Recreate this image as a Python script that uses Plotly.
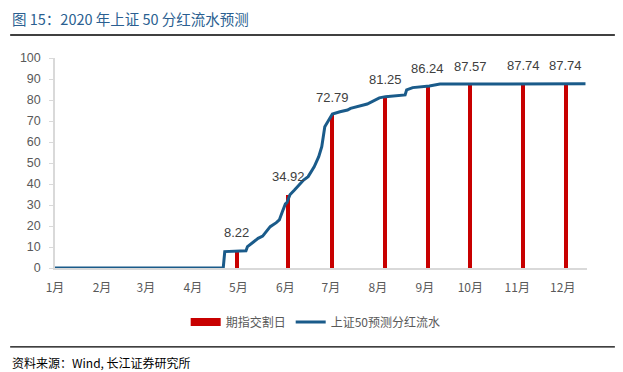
import plotly.graph_objects as go

# ---- data ----
LINE_DATES = ["2020-01-01", "2020-04-21", "2020-04-22", "2020-05-06", "2020-05-07",
              "2020-05-11", "2020-05-14", "2020-05-17", "2020-05-22", "2020-05-26",
              "2020-05-28", "2020-05-30", "2020-06-01", "2020-06-02", "2020-06-04",
              "2020-06-07", "2020-06-11", "2020-06-13", "2020-06-16", "2020-06-20",
              "2020-06-23", "2020-06-25", "2020-06-27", "2020-06-29", "2020-07-01",
              "2020-07-02", "2020-07-07", "2020-07-12", "2020-07-14", "2020-07-18",
              "2020-07-25", "2020-08-02", "2020-08-06", "2020-08-19", "2020-08-20",
              "2020-08-24", "2020-09-04", "2020-09-11", "2020-12-16"]
LINE_VALUES = [0, 0, 7.8, 8.2, 10.2,
               12.5, 14.1, 15.2, 19.7, 21.6,
               22.9, 26.8, 30.5, 31.1, 34.9,
               37.1, 40.3, 41.9, 43.5, 48.2,
               53.0, 57.8, 67.3, 69.7, 72.0,
               73.3, 74.4, 75.2, 76.0, 76.8,
               78.1, 81.0, 81.6, 82.4, 84.8,
               85.9, 86.7, 87.6, 87.74]

BAR_DATES = ["2020-04-30", "2020-06-03", "2020-07-02", "2020-08-06",
             "2020-09-03", "2020-10-01", "2020-11-05", "2020-12-03"]
BAR_VALUES = [8.22, 34.92, 72.79, 81.25, 86.24, 87.57, 87.74, 87.74]

MONTH_TICKS = ["2020-01-01", "2020-02-01", "2020-03-01", "2020-04-01", "2020-05-01",
               "2020-06-01", "2020-07-01", "2020-08-01", "2020-09-01", "2020-10-01",
               "2020-11-01", "2020-12-01"]
MONTH_LABELS = ["1月", "2月", "3月", "4月", "5月", "6月", "7月", "8月", "9月",
                "10月", "11月", "12月"]
Y_TICKS = [0, 10, 20, 30, 40, 50, 60, 70, 80, 90, 100]

BAR_NAME = "期指交割日"
LINE_NAME = "上证50预测分红流水"
TITLE = "图 15：2020 年上证 50 分红流水预测"
SOURCE = "资料来源：Wind, 长江证券研究所"

RED = "#C80000"
BLUE = "#1A5B8A"
FONT = "Liberation Sans, Arial, Noto Sans CJK SC, sans-serif"
CJK = "Noto Sans CJK SC, sans-serif"
GRAY = "#595959"

fig = go.Figure()

fig.add_trace(go.Bar(
    x=BAR_DATES, y=BAR_VALUES, marker_color=RED, marker_line_width=0,
    width=2.6 * 86400000, showlegend=False, name=BAR_NAME,
))
# legend proxy for the bar series (wide red block)
fig.add_trace(go.Scatter(
    x=[None], y=[None], mode="lines", line=dict(color=RED, width=8),
    name=BAR_NAME,
))
fig.add_trace(go.Scatter(
    x=LINE_DATES, y=LINE_VALUES, mode="lines", line=dict(color=BLUE, width=3),
    name=LINE_NAME,
))

for d, v in zip(BAR_DATES, BAR_VALUES):
    fig.add_annotation(x=d, y=v, text=f"{v:.2f}", showarrow=False,
                       yanchor="middle", yshift=18,
                       font=dict(family=FONT, size=13, color="#404040"))

# title, rules, source
fig.add_annotation(xref="paper", yref="paper", x=-0.0843, y=1.188, xanchor="left",
                   yanchor="middle", text=TITLE, showarrow=False,
                   font=dict(family=CJK, size=14.5, color="#2B5F91"))
fig.add_annotation(xref="paper", yref="paper", x=-0.0843, y=-0.448, xanchor="left",
                   yanchor="middle", text=SOURCE, showarrow=False,
                   font=dict(family=CJK, size=12, color="#000000"))
fig.add_shape(type="line", xref="paper", yref="paper", x0=-0.0843, x1=1.0524,
              y0=1.1095, y1=1.1095, line=dict(color="#000000", width=1.5))
fig.add_shape(type="line", xref="paper", yref="paper", x0=-0.0843, x1=1.0524,
              y0=-0.376, y1=-0.376, line=dict(color="#000000", width=1.2))

# page body has an 8px margin, so the figure is 8px smaller and offset accordingly
fig.update_layout(
    width=615, height=364,
    margin=dict(l=45, r=36, t=50, b=104),
    paper_bgcolor="white", plot_bgcolor="white",
    font=dict(family=FONT, size=12, color=GRAY),
    bargap=0,
    showlegend=True,
    legend=dict(orientation="h", x=0.49, xanchor="center", y=-0.257, yanchor="middle",
                font=dict(family=CJK, size=12, color=GRAY),
                itemwidth=30, traceorder="normal"),
    xaxis=dict(
        type="date", range=["2020-01-01", "2020-12-17"],
        tickvals=MONTH_TICKS, ticktext=MONTH_LABELS, ticks="",
        showgrid=False, zeroline=False, showline=True, linecolor="#D9D9D9", linewidth=1.5,
        tickfont=dict(family=CJK, size=12, color=GRAY),
        ticklabelstandoff=8,
    ),
    yaxis=dict(
        range=[0, 100], tickvals=Y_TICKS, ticks="outside", ticklen=4,
        tickcolor="#D9D9D9", showgrid=False, zeroline=False,
        showline=True, linecolor="#D9D9D9", linewidth=1.5,
        tickfont=dict(family=FONT, size=12.5, color=GRAY),
        ticklabelstandoff=6,
    ),
)

fig.write_html("out.html")
